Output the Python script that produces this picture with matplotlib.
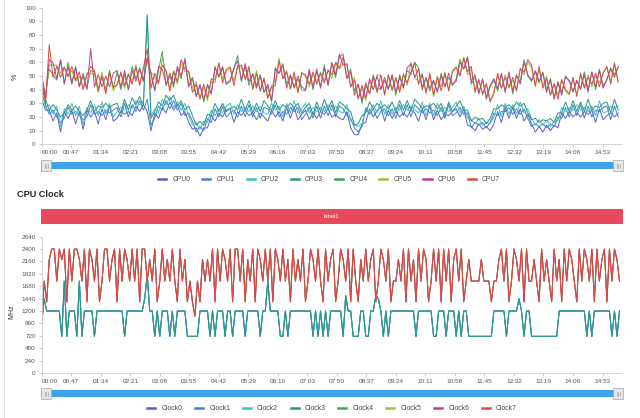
import numpy as np
import matplotlib
matplotlib.use('Agg')
import matplotlib.pyplot as plt
from matplotlib.patches import Rectangle
from matplotlib.lines import Line2D

plt.rcParams['font.family'] = ['Liberation Sans', 'DejaVu Sans']

# time axis labels (every 47 min)
tick_labels = ['00:00', '00:47', '01:34', '02:21', '03:08', '03:55', '04:42', '05:29',
               '06:16', '07:03', '07:50', '08:37', '09:24', '10:11', '10:58', '11:45',
               '12:32', '13:19', '14:06', '14:53']
cpu_step = 6     # minutes between cpu samples
clock_step = 4   # minutes between clock samples

# CPU usage (%)
cpu0 = [33, 25, 25, 17, 23, 9, 24, 19, 25, 15, 24, 11, 25, 20, 24, 15, 26, 18, 28, 17,
        19, 24, 22, 24, 21, 28, 24, 29, 24, 10, 23, 19, 27, 23, 31, 25, 29, 21, 24, 16,
        11, 12, 6, 12, 12, 21, 17, 23, 20, 25, 26, 16, 24, 21, 25, 21, 23, 18, 23, 20,
        17, 25, 20, 24, 17, 27, 19, 27, 18, 22, 25, 18, 23, 19, 24, 22, 26, 20, 22, 19,
        18, 24, 12, 7, 7, 15, 16, 26, 20, 25, 27, 17, 25, 19, 24, 20, 23, 20, 25, 23,
        17, 26, 18, 28, 18, 25, 18, 22, 21, 24, 26, 20, 26, 14, 13, 10, 15, 11, 13, 10,
        15, 24, 16, 27, 19, 27, 19, 26, 17, 22, 15, 9, 13, 9, 14, 10, 14, 12, 23, 19,
        24, 20, 23, 20, 24, 22, 25, 16, 26, 18, 21, 23, 20, 23]
cpu1 = [37, 29, 22, 25, 20, 16, 19, 27, 22, 24, 21, 18, 20, 29, 22, 24, 21, 25, 23, 25,
        27, 20, 30, 20, 29, 24, 32, 25, 33, 14, 19, 28, 25, 32, 26, 32, 25, 30, 21, 23,
        17, 9, 13, 10, 19, 16, 26, 20, 28, 20, 23, 25, 20, 28, 20, 29, 20, 27, 19, 27,
        26, 22, 29, 20, 24, 22, 27, 24, 27, 18, 22, 27, 19, 28, 19, 28, 21, 29, 20, 28,
        26, 21, 19, 12, 9, 13, 26, 22, 26, 19, 24, 26, 21, 26, 19, 29, 21, 29, 20, 29,
        26, 23, 26, 23, 25, 21, 27, 19, 29, 21, 23, 27, 22, 23, 12, 16, 14, 16, 12, 16,
        23, 21, 24, 24, 27, 22, 26, 22, 26, 19, 13, 15, 13, 15, 12, 15, 13, 20, 19, 27,
        20, 29, 21, 29, 19, 28, 20, 25, 24, 27, 28, 18, 28, 20]
cpu2 = [40, 27, 29, 22, 28, 13, 26, 22, 30, 21, 28, 14, 27, 23, 29, 21, 31, 22, 30, 20,
        24, 27, 25, 29, 26, 32, 29, 32, 95, 21, 26, 23, 33, 29, 35, 27, 31, 25, 30, 21,
        14, 16, 11, 17, 16, 25, 21, 26, 23, 28, 30, 22, 29, 24, 27, 24, 28, 24, 28, 23,
        22, 30, 25, 28, 20, 30, 23, 32, 23, 26, 30, 23, 27, 24, 27, 24, 29, 25, 28, 24,
        23, 29, 17, 15, 13, 15, 27, 23, 29, 23, 32, 22, 29, 22, 27, 25, 29, 25, 28, 25,
        23, 31, 21, 30, 21, 30, 24, 27, 24, 27, 31, 23, 28, 19, 18, 15, 19, 14, 16, 15,
        20, 29, 20, 30, 22, 29, 22, 31, 23, 26, 19, 14, 18, 14, 18, 13, 17, 17, 27, 24,
        27, 25, 29, 25, 27, 24, 28, 21, 32, 23, 24, 28, 26, 28]
cpu3 = [41, 33, 25, 29, 25, 20, 23, 29, 25, 28, 24, 21, 25, 32, 24, 28, 27, 30, 27, 29,
        30, 23, 33, 25, 34, 29, 35, 28, 94, 19, 24, 31, 28, 36, 32, 36, 28, 32, 25, 28,
        21, 14, 17, 14, 22, 21, 30, 24, 30, 24, 26, 28, 25, 33, 25, 32, 23, 30, 24, 32,
        28, 25, 32, 25, 29, 27, 30, 27, 30, 23, 27, 30, 22, 31, 24, 33, 26, 32, 23, 31,
        29, 26, 24, 14, 15, 21, 23, 31, 26, 30, 27, 29, 26, 31, 24, 32, 25, 32, 25, 33,
        30, 26, 28, 28, 30, 26, 30, 22, 31, 24, 28, 32, 25, 25, 17, 20, 18, 19, 15, 19,
        26, 26, 29, 27, 29, 26, 31, 28, 30, 23, 18, 19, 16, 18, 17, 19, 16, 23, 23, 31,
        24, 32, 24, 31, 24, 33, 25, 28, 27, 30, 31, 23, 33, 25]
cpu4 = [49, 36, 55, 51, 47, 61, 44, 60, 45, 57, 43, 52, 41, 54, 53, 40, 51, 39, 54, 41,
        53, 40, 51, 40, 57, 48, 56, 47, 62, 51, 40, 54, 68, 43, 50, 42, 55, 48, 63, 43,
        48, 35, 43, 31, 44, 37, 57, 49, 56, 44, 46, 55, 65, 46, 57, 43, 52, 43, 51, 38,
        42, 31, 56, 52, 59, 44, 51, 41, 48, 40, 39, 53, 40, 54, 42, 58, 44, 59, 49, 64,
        66, 49, 55, 39, 44, 30, 43, 37, 51, 40, 41, 49, 41, 50, 36, 51, 42, 54, 51, 60,
        56, 42, 48, 39, 46, 39, 52, 42, 49, 43, 48, 62, 55, 63, 44, 49, 38, 48, 33, 42,
        47, 39, 51, 39, 52, 37, 50, 46, 62, 50, 46, 53, 45, 53, 40, 47, 33, 46, 38, 49,
        47, 38, 46, 41, 53, 40, 53, 40, 55, 43, 47, 56, 51, 56]
cpu5 = [44, 35, 58, 58, 58, 52, 57, 49, 54, 46, 50, 41, 52, 52, 51, 38, 53, 40, 52, 39,
        45, 51, 41, 52, 46, 58, 45, 56, 60, 53, 49, 44, 63, 53, 41, 54, 44, 59, 53, 54,
        41, 46, 34, 42, 32, 46, 45, 60, 48, 55, 57, 46, 58, 56, 47, 55, 42, 54, 39, 49,
        33, 43, 46, 63, 48, 54, 40, 50, 38, 53, 49, 42, 51, 46, 53, 47, 55, 48, 59, 55,
        59, 58, 42, 49, 34, 41, 32, 46, 40, 51, 50, 37, 50, 39, 48, 40, 52, 43, 60, 49,
        46, 52, 37, 50, 35, 50, 42, 53, 40, 54, 57, 51, 64, 51, 55, 40, 48, 36, 45, 32,
        38, 50, 41, 51, 41, 47, 40, 56, 51, 60, 56, 42, 55, 43, 50, 36, 45, 36, 48, 39,
        36, 48, 36, 51, 42, 51, 42, 50, 45, 53, 56, 46, 60, 45]
cpu6 = [51, 33, 62, 60, 48, 62, 45, 57, 44, 56, 42, 50, 40, 70, 42, 51, 42, 50, 42, 52,
        54, 42, 54, 40, 54, 46, 55, 46, 64, 52, 39, 57, 55, 44, 52, 44, 57, 50, 62, 42,
        49, 35, 44, 33, 43, 37, 56, 50, 57, 44, 47, 56, 61, 47, 59, 46, 51, 41, 50, 38,
        44, 32, 55, 52, 58, 41, 50, 42, 50, 42, 40, 55, 42, 55, 41, 56, 43, 60, 51, 66,
        58, 59, 42, 47, 33, 43, 34, 48, 40, 50, 40, 47, 40, 51, 38, 49, 41, 56, 59, 49,
        55, 40, 49, 41, 47, 38, 50, 42, 52, 44, 46, 60, 55, 64, 46, 51, 37, 47, 34, 43,
        48, 41, 52, 38, 53, 39, 51, 44, 60, 51, 47, 54, 46, 52, 38, 48, 34, 45, 36, 50,
        46, 39, 47, 40, 51, 38, 53, 42, 54, 41, 48, 55, 49, 57]
cpu7 = [46, 30, 73, 49, 57, 49, 56, 50, 57, 47, 53, 40, 51, 57, 54, 39, 50, 37, 53, 42,
        43, 53, 43, 51, 44, 57, 43, 56, 70, 41, 52, 45, 58, 54, 39, 53, 46, 62, 55, 53,
        38, 44, 33, 44, 34, 48, 47, 59, 45, 54, 56, 43, 57, 58, 48, 57, 40, 52, 39, 48,
        34, 42, 43, 61, 48, 53, 41, 53, 38, 52, 51, 44, 53, 44, 52, 45, 54, 51, 60, 56,
        64, 48, 53, 36, 44, 32, 45, 37, 49, 38, 51, 36, 51, 40, 49, 38, 51, 45, 53, 60,
        44, 51, 38, 52, 36, 49, 39, 52, 39, 53, 56, 50, 63, 53, 57, 38, 47, 37, 44, 31,
        37, 52, 41, 49, 42, 49, 39, 55, 53, 62, 58, 43, 57, 41, 48, 36, 44, 33, 47, 40,
        37, 49, 35, 52, 41, 49, 44, 52, 42, 52, 57, 44, 59, 46]

# CPU clock (MHz): little cores (Clock0-3) and big cores (Clock4-7)
clock_little = [960, 1440, 1200, 1200, 1200, 1200, 1200, 1200, 710, 1780, 710, 1200, 1200, 1200, 710, 1780, 710, 1200, 1200, 1200,
                1200, 710, 1200, 1200, 1200, 1200, 1200, 1200, 1200, 1200, 1200, 1200, 1200, 710, 1200, 1200, 1200, 1200, 1200, 1200,
                1200, 1440, 1900, 1200, 1200, 710, 1200, 710, 1200, 1200, 1200, 710, 1200, 710, 1200, 1200, 1200, 1200, 710, 710,
                710, 710, 710, 1200, 1200, 1200, 1200, 710, 1200, 710, 1200, 1200, 1200, 710, 1200, 1200, 710, 1200, 1200, 1200,
                1200, 710, 1200, 1200, 1200, 1200, 1200, 710, 1200, 1200, 1780, 1200, 1200, 1200, 1200, 710, 710, 1200, 710, 1200,
                1200, 1200, 1200, 1200, 1200, 1200, 1200, 1200, 710, 1200, 710, 1200, 710, 1200, 710, 1200, 1200, 1200, 1200, 1200,
                710, 1500, 1200, 1200, 710, 710, 710, 1200, 1200, 710, 710, 1200, 1200, 1500, 1440, 1200, 710, 1200, 710, 1200,
                1200, 1200, 1200, 1200, 1200, 1200, 1200, 1200, 1200, 710, 1200, 1200, 1200, 1200, 1200, 1200, 710, 710, 1200, 1200,
                1200, 710, 1200, 1200, 1200, 710, 1200, 710, 1200, 1200, 710, 710, 710, 710, 710, 710, 710, 710, 710, 710,
                1200, 1200, 1200, 1200, 1200, 710, 1200, 1200, 1200, 1200, 1440, 1200, 710, 1200, 1200, 710, 710, 710, 710, 710,
                710, 710, 710, 710, 710, 710, 1200, 1200, 1200, 1200, 1200, 1200, 1200, 1200, 1200, 1200, 1200, 710, 1200, 710,
                1200, 1200, 1200, 1200, 1200, 1200, 1200, 710, 1200, 710, 1200]
clock_big = [1000, 1780, 1380, 2200, 2400, 2400, 1780, 2400, 2200, 2400, 1380, 2400, 1780, 2400, 2400, 2200, 1780, 2400, 1380, 2400,
             2200, 1780, 2400, 1380, 1780, 2400, 2400, 1780, 2200, 2400, 1380, 2400, 1780, 2400, 2200, 1780, 2400, 1780, 2400, 1380,
             2400, 2400, 1780, 2200, 1780, 2400, 1380, 1780, 2400, 1780, 2200, 1780, 2400, 1780, 1380, 2400, 1780, 2200, 1380, 1780,
             1380, 1100, 1780, 1380, 2200, 1780, 2200, 1780, 2400, 1380, 2400, 1780, 2400, 2200, 1780, 2400, 1380, 2400, 2400, 1780,
             2400, 1380, 2200, 1780, 2400, 1380, 2400, 2200, 1780, 2400, 1780, 2400, 1380, 2400, 2200, 1780, 2400, 1780, 2200, 1380,
             2400, 1780, 2200, 1780, 2400, 1380, 1780, 2400, 2200, 1780, 2400, 1780, 1380, 2400, 1780, 2200, 2400, 1380, 1780, 2400,
             2200, 1780, 2400, 1380, 2400, 1780, 1380, 2200, 1780, 2400, 1780, 2200, 2400, 1380, 1780, 2400, 2200, 1780, 2400, 1380,
             1780, 1780, 2200, 1780, 2400, 1380, 2400, 1780, 2200, 1380, 2400, 1780, 2400, 2200, 1380, 1780, 2400, 1780, 2400, 1380,
             2400, 1780, 2400, 1380, 2200, 2400, 1780, 2400, 1380, 1780, 2200, 1780, 1780, 1780, 1780, 2200, 1780, 1780, 1780, 1380,
             1780, 1780, 2200, 2400, 1780, 2400, 1380, 1780, 2400, 2200, 1780, 2400, 1380, 2400, 1780, 1780, 2200, 1780, 1380, 2400,
             1780, 2200, 1780, 1380, 2400, 1780, 2200, 1380, 2400, 1780, 2400, 2200, 1780, 1380, 2400, 1780, 2400, 2200, 1780, 2400,
             1380, 2400, 1780, 2200, 2400, 1380, 2400, 1780, 2400, 2200, 1780]

cpu_series = [cpu0, cpu1, cpu2, cpu3, cpu4, cpu5, cpu6, cpu7]
clock_series = [clock_little] * 4 + [clock_big] * 4
colors = ['#5a5fc4', '#3b82d6', '#3fbfcb', '#2e957c', '#3ba953', '#96c33a', '#c13f9c', '#e0473d']

W, H = 640, 418
fig = plt.figure(figsize=(6.4, 4.18), dpi=100)


def fx(px):
    return px / W


def fy(py):
    return 1 - py / H


tick_min = [int(s[:2]) * 60 + int(s[3:]) for s in tick_labels]


def style(ax, ymax, ystep):
    ax.set_xlim(0, 924)
    ax.set_ylim(0, ymax)
    ax.set_yticks(np.arange(0, ymax + 1, ystep))
    ax.set_xticks(tick_min)
    ax.set_xticklabels(tick_labels)
    ax.get_xticklabels()[0].set_horizontalalignment('left')
    for s in ['top', 'right']:
        ax.spines[s].set_visible(False)
    for s in ['left', 'bottom']:
        ax.spines[s].set_color('#cfcfcf')
        ax.spines[s].set_linewidth(0.6)
    ax.tick_params(labelsize=4.6, labelcolor='#555555', color='#bbbbbb',
                   length=2.2, width=0.5, pad=2)


def slider(y0):
    fig.patches.append(Rectangle((fx(41), fy(y0 + 7)), fx(582), 7 / H,
                                 transform=fig.transFigure, facecolor='#3ea3e8', edgecolor='none'))
    for hx in (41, 613):
        fig.patches.append(Rectangle((fx(hx), fy(y0 + 9)), fx(10), 11 / H, transform=fig.transFigure,
                                     facecolor='#e6e6e6', edgecolor='#a8a8a8', linewidth=0.5))
        for gx in (hx + 4, hx + 5.3, hx + 6.6):
            fig.lines.append(Line2D([fx(gx), fx(gx)], [fy(y0 + 1.5), fy(y0 + 5.5)],
                                    transform=fig.transFigure, color='#999999', linewidth=0.4))


def legend(ax, names, ypx, xc, spacing):
    handles = [Line2D([0], [0], color=c, linewidth=1.8) for c in colors]
    ax.legend(handles, names, ncol=8, loc='center', bbox_to_anchor=(fx(xc), fy(ypx)),
              bbox_transform=fig.transFigure, frameon=False, fontsize=4.9,
              handlelength=1.2, handletextpad=0.9, columnspacing=spacing, labelcolor='#444444')


# page border
fig.lines.append(Line2D([fx(3.5), fx(3.5)], [0, 1], transform=fig.transFigure, color='#e4e4e4', linewidth=0.8))

# CPU usage chart
ax1 = fig.add_axes([fx(41.7), fy(144.3), fx(622 - 41.7), (144.3 - 7.7) / H])
for i, s in enumerate(cpu_series):
    ax1.plot(np.arange(len(s)) * cpu_step, s, color=colors[i], linewidth=0.7, label=f'CPU{i}')
style(ax1, 100, 10)
fig.text(fx(15), fy(77), '%', rotation=90, ha='center', va='center', fontsize=5, color='#333333')
slider(162)
legend(ax1, [f'CPU{i}' for i in range(8)], 179.5, 329, 1.75)

# CPU clock chart
fig.text(fx(17.3), fy(195), 'CPU Clock', fontsize=6.6, fontweight='bold', ha='left', va='center', color='#222222')
fig.patches.append(Rectangle((fx(41), fy(224)), fx(582), 15 / H, transform=fig.transFigure,
                             facecolor='#e8495b', edgecolor='none'))
fig.text(fx(331), fy(216.5), 'label1', fontsize=4.2, color='white', ha='center', va='center')

ax2 = fig.add_axes([fx(41.7), fy(373), fx(622 - 41.7), (373 - 236.7) / H])
for i, s in enumerate(clock_series):
    ax2.plot(np.arange(len(s)) * clock_step, s, color=colors[i], linewidth=0.7, label=f'Clock{i}')
style(ax2, 2640, 240)
fig.text(fx(12), fy(312), 'MHz', rotation=90, ha='center', va='center', fontsize=5, color='#333333')
slider(390)
legend(ax2, [f'Clock{i}' for i in range(8)], 409, 332, 1.85)

fig.savefig('out.png', dpi=100)
